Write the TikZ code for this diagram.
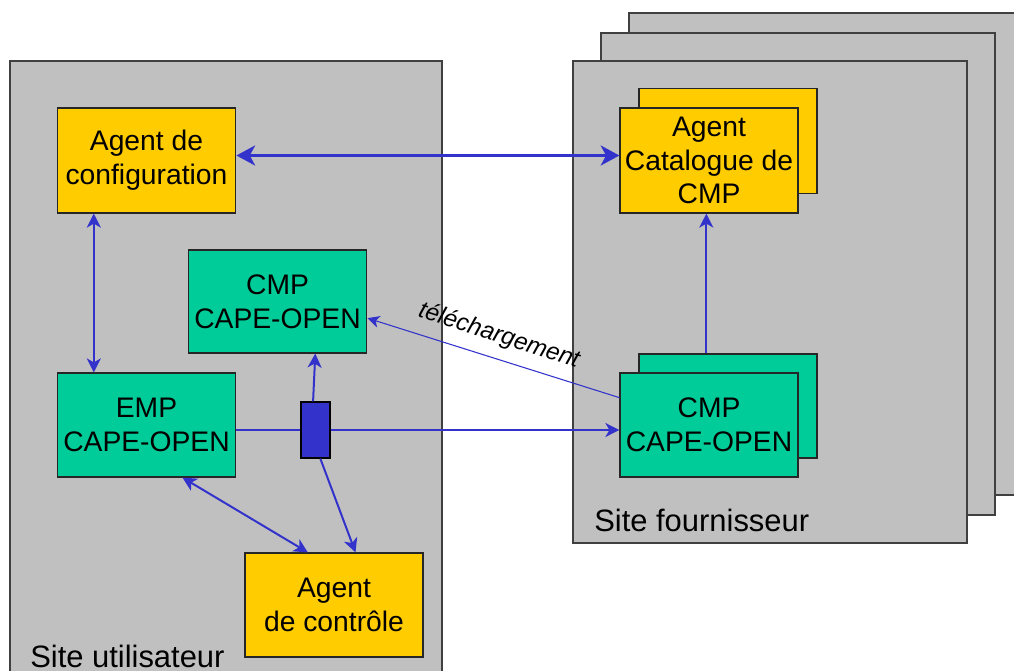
\documentclass[tikz,border=0pt]{standalone}
\usepackage{fontspec}
\setmainfont{Liberation Sans}
\usetikzlibrary{arrows.meta,calc}
\definecolor{panelgray}{HTML}{C0C0C0}
\definecolor{agentyellow}{HTML}{FFCC00}
\definecolor{cmpgreen}{HTML}{00CC99}
\definecolor{linkblue}{HTML}{3333CC}
\tikzset{
  panel/.style={draw=black!75, fill=panelgray, line width=0.9pt},
  box/.style={draw=black!85, line width=0.9pt, align=center, inner sep=0pt,
    minimum width=134pt, minimum height=78pt,
    font=\fontsize{21.2}{25.3}\selectfont},
  agentbox/.style={box, fill=agentyellow},
  cmpbox/.style={box, fill=cmpgreen},
  sitelabel/.style={font=\fontsize{23.2}{27}\selectfont, anchor=base west, inner sep=0pt},
  link/.style={draw=linkblue, line width=1.5pt},
  tip/.style={-{Stealth[length=10.5pt,width=10.5pt,inset=3pt]}},
  dtip/.style={{Stealth[length=10.5pt,width=10.5pt,inset=3pt]}-{Stealth[length=10.5pt,width=10.5pt,inset=3pt]}},
}
\begin{document}
\begin{tikzpicture}[x=0.75pt,y=-0.75pt]
\clip (0,0) rectangle (1014,671);
\fill[white] (0,0) rectangle (1014,671);
% panels
\draw[panel] (10,61) rectangle (442,700);
\draw[panel] (629,13) rectangle (1030,495);
\draw[panel] (601,33) rectangle (995,515);
\draw[panel] (573,61) rectangle (967,543);
\node[sitelabel] (siteu) at (30,667) {Site utilisateur};
\node[sitelabel] (sitef) at (594,531) {Site fournisseur};
% user site nodes
\node[agentbox, minimum height=78.75pt] (cfg) at (146.5,160.5) {Agent de\\configuration};
\node[cmpbox, minimum height=77.25pt] (cmpl) at (277.5,301.5) {CMP\\CAPE-OPEN};
\node[cmpbox] (emp) at (146.5,425) {EMP\\CAPE-OPEN};
\node[agentbox, minimum width=133.5pt] (ctl) at (334,605) {Agent\\de contrôle};
% supplier nodes
\node[agentbox, minimum width=133.5pt, minimum height=78.75pt] (catb) at (728,141) {};
\node[agentbox, minimum width=133.5pt, minimum height=78.75pt] (catf) at (709,160.5) {Agent\\Catalogue de\\CMP};
\node[cmpbox, minimum width=133.5pt] (cmprb) at (728,406) {};
\node[cmpbox, minimum width=133.5pt] (cmpr) at (709,425) {CMP\\CAPE-OPEN};
% connectors
\draw[link, line width=2.3pt, {Stealth[length=14pt,width=15pt,inset=4pt]}-{Stealth[length=14pt,width=15pt,inset=4pt]}] ([yshift=3.75pt]cfg.east) -- ([yshift=3.75pt]catf.west);
\draw[link, dtip] ($(cfg.south west)!0.207!(cfg.south east)$) -- ($(emp.north west)!0.207!(emp.north east)$);
\draw[link, tip] ([xshift=-2pt]catf.south |- cmprb.north) -- ([xshift=-2pt]catf.south);
% switch
\node[draw=black, fill=linkblue, line width=0.9pt, minimum width=21.75pt, minimum height=42pt, inner sep=0pt] (sw) at (315.5,430) {};
\draw[link] (emp.east |- sw.west) -- (sw.west);
\draw[link, tip] (sw.east) -- (cmpr.west |- sw.east);
\draw[link, tip] ($(sw.north west)!0.42!(sw.north east)$) -- ($(cmpl.south west)!0.71!(cmpl.south east)$);
\draw[link, tip] ($(sw.south west)!0.66!(sw.south east)$) -- ($(ctl.north west)!0.62!(ctl.north east)$);
\draw[link, dtip] ($(emp.south west)!0.70!(emp.south east)$) -- ($(ctl.north west)!0.354!(ctl.north east)$);
% download
\draw[draw=linkblue, line width=0.8pt, -{Stealth[length=9pt,width=9pt,inset=2.5pt]}] ($(cmpr.north west)!0.24!(cmpr.south west)$) -- ($(cmpl.north east)!0.66!(cmpl.south east)$);
\node[font=\fontsize{18.2}{22}\selectfont\itshape, rotate=-18, inner sep=0pt] (dl) at (499,336) {téléchargement};
\end{tikzpicture}
\end{document}
